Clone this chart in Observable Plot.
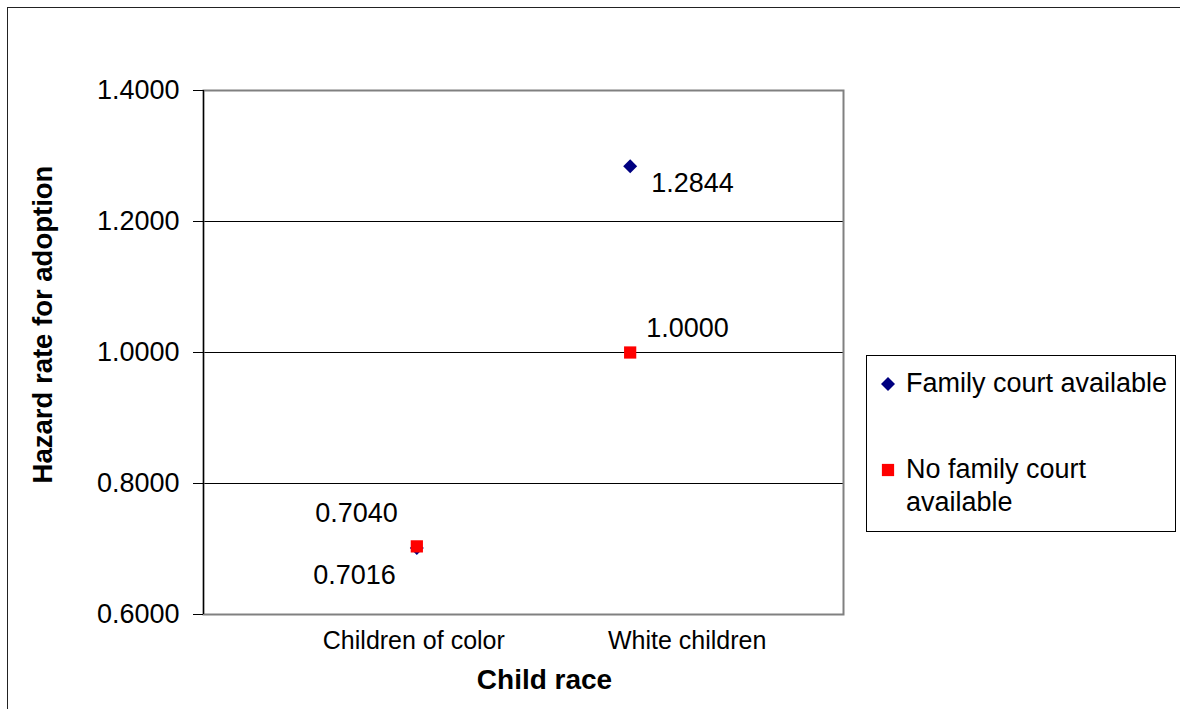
<!DOCTYPE html>
<html>
<head>
<meta charset="utf-8">
<script src="https://cdn.jsdelivr.net/npm/d3@7"></script>
<script src="https://cdn.jsdelivr.net/npm/@observablehq/plot@0.6"></script>
<style>
  html, body { margin: 0; padding: 0; background: #fff; overflow: hidden; }
  body { width: 1180px; height: 709px; position: relative; font-family: "Liberation Sans", Arial, sans-serif; }
  #outer { position: absolute; left: 7px; top: 7px; width: 1220px; height: 740px; border: 1.5px solid #222; box-sizing: border-box; }
  #chart { position: absolute; left: 0; top: 0; }
  #legend { position: absolute; left: 866px; top: 355px; width: 310px; height: 177px; box-sizing: border-box;
            border: 1px solid #000; background: #fff; font-size: 27px; color: #000; }
  .item { position: absolute; left: 0; display: flex; align-items: flex-start; }
  .item svg { position: absolute; left: 14px; }
  .item span { position: absolute; left: 39px; line-height: 33px; white-space: nowrap; }
</style>
</head>
<body>
<div id="outer"></div>
<div id="chart"></div>
<div id="legend"></div>
<script>
// Hazard rate for adoption by child race, with and without a family court
const categories = ["Children of color", "White children"];
const seriesNames = ["Family court available", "No family court available"];
const familyCourt = [0.7016, 1.2844];
const noFamilyCourt = [0.7040, 1.0000];
const yTicks = [0.6, 0.8, 1.0, 1.2, 1.4];
const gridValues = [0.8, 1.0, 1.2];
const xTitle = "Child race";
const yTitle = "Hazard rate for adoption";

const seriesStyle = [
  {symbol: "diamond2", fill: "#000080", r: 6.3},
  {symbol: "square", fill: "#ff0000", r: 6.9}
];

const rows = [];
[familyCourt, noFamilyCourt].forEach((vals, s) => {
  vals.forEach((v, i) => rows.push({series: seriesNames[s], s, category: categories[i], i, value: v}));
});

const fmt = d3.format(".4f");

// value-label placement around each marker (series index, category index)
const labelPlacement = [
  {s: 0, i: 1, dx: 21, dy: 17, anchor: "start"},
  {s: 1, i: 1, dx: 16, dy: -24, anchor: "start"},
  {s: 1, i: 0, dx: -19, dy: -33, anchor: "end"},
  {s: 0, i: 0, dx: -21, dy: 27, anchor: "end"}
];
// horizontal nudge of the category labels, in pixels
const categoryLabelNudge = [-3, 57];

const marks = [
  Plot.ruleY(gridValues, {stroke: "#000", strokeWidth: 1}),
  Plot.frame({stroke: "#808080", strokeWidth: 2}),
  Plot.ruleX([0], {stroke: "#000", strokeWidth: 1.2}),
  Plot.axisY({ticks: yTicks, tickFormat: fmt, tickSize: 10, tickPadding: 14, fontSize: 27, label: null, stroke: "#000", fill: "#000"}),
  ...categories.map((c, i) => Plot.text([c], {
    x: [i + 1], frameAnchor: "bottom", lineAnchor: "middle", textAnchor: "middle",
    dy: 26, dx: categoryLabelNudge[i], fontSize: 25, fill: "#000"
  })),
  Plot.text([xTitle], {frameAnchor: "bottom", lineAnchor: "middle", textAnchor: "middle", dx: 21, dy: 66, fontSize: 28, fontWeight: "bold", fill: "#000"}),
  Plot.text([yTitle], {frameAnchor: "left", lineAnchor: "middle", textAnchor: "middle", rotate: -90, dx: -160, dy: -28, fontSize: 27.5, fontWeight: "bold", fill: "#000"}),
  ...seriesStyle.map((st, s) => Plot.dot(rows.filter(d => d.s === s), {
    x: d => d.i + 1, y: "value", symbol: () => st.symbol, fill: st.fill, stroke: "none", r: st.r
  })),
  ...labelPlacement.map(p => Plot.text(rows.filter(d => d.s === p.s && d.i === p.i), {
    x: d => d.i + 1, y: "value", text: d => fmt(d.value), dx: p.dx, dy: p.dy,
    textAnchor: p.anchor, lineAnchor: "middle", fontSize: 27, fill: "#000"
  }))
];

const chart = Plot.plot({
  width: 1180,
  height: 709,
  marginLeft: 203,
  marginRight: 337,
  marginTop: 90,
  marginBottom: 95,
  style: {fontFamily: "'Liberation Sans', Arial, sans-serif", background: "transparent", overflow: "visible"},
  x: {type: "linear", domain: [0, 3], axis: null},
  y: {domain: [0.6, 1.4], axis: null},
  symbol: {type: "identity"},
  marks
});
document.getElementById("chart").appendChild(chart);

// legend box to the right of the plot
const legend = d3.select("#legend");
const legendRows = [
  {lines: [seriesNames[0]], top: 11},
  {lines: ["No family court", "available"], top: 97}
];
legendRows.forEach((row, s) => {
  const item = legend.append("div").attr("class", "item").style("top", row.top + "px");
  const svg = item.append("svg").attr("width", 14).attr("height", 14).style("top", "10px").attr("viewBox", "-7 -7 14 14");
  const st = seriesStyle[s];
  const sym = st.symbol === "diamond2" ? d3.symbolDiamond2 : d3.symbolSquare;
  svg.append("path").attr("d", d3.symbol(sym, st.r * st.r * Math.PI)()).attr("fill", st.fill);
  item.append("span").html(row.lines.join("<br>"));
});
</script>
</body>
</html>
